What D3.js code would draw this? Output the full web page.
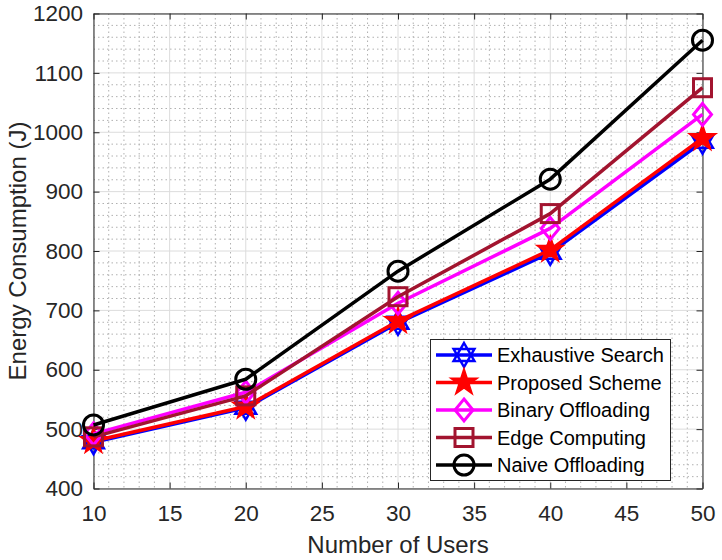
<!DOCTYPE html>
<html><head><meta charset="utf-8">
<script src="https://cdn.jsdelivr.net/npm/d3@7"></script>
<style>body{margin:0;background:#fff}svg{display:block}text{font-family:"Liberation Sans",Arial,sans-serif;fill:#262626}</style>
</head><body><svg id="c" width="722" height="560"></svg>
<script>
const users = [10, 20, 30, 40, 50];
const exhaustive = [478, 536, 679, 797, 984];
const proposed = [480, 538, 682, 802, 990];
const binary = [492, 562, 712, 838, 1030];
const edge = [487, 556, 723, 863, 1075];
const naive = [507, 584, 766, 921, 1155];
const seriesNames = ["Exhaustive Search", "Proposed Scheme", "Binary Offloading", "Edge Computing", "Naive Offloading"];
const xTicks = [10, 15, 20, 25, 30, 35, 40, 45, 50];
const yTicks = [400, 500, 600, 700, 800, 900, 1000, 1100, 1200];

const series = [
  {name: seriesNames[0], vals: exhaustive, color: "#0000ff", marker: "hex"},
  {name: seriesNames[1], vals: proposed, color: "#ff0000", marker: "pent"},
  {name: seriesNames[2], vals: binary, color: "#ff00ff", marker: "diamond"},
  {name: seriesNames[3], vals: edge, color: "#a2142f", marker: "square"},
  {name: seriesNames[4], vals: naive, color: "#000000", marker: "circle"}
];

const L = 93.5, R = 702.5, T = 13.5, B = 488.5;
const svg = d3.select("#c");
const x = d3.scaleLinear().domain([10, 50]).range([L, R]);
const y = d3.scaleLinear().domain([400, 1200]).range([B, T]);

// minor grid
const g = svg.append("g");
d3.range(10, 51, 1).filter(v => v % 5 !== 0).forEach(v => {
  g.append("line").attr("x1", x(v)).attr("x2", x(v)).attr("y1", T).attr("y2", B)
    .attr("stroke", "#b0b0b0").attr("stroke-width", 1).attr("stroke-dasharray", "1.5,3");
});
d3.range(400, 1201, 20).filter(v => v % 100 !== 0).forEach(v => {
  g.append("line").attr("x1", L).attr("x2", R).attr("y1", y(v)).attr("y2", y(v))
    .attr("stroke", "#b0b0b0").attr("stroke-width", 1).attr("stroke-dasharray", "1.5,3");
});
// major grid
xTicks.forEach(v => g.append("line").attr("x1", x(v)).attr("x2", x(v)).attr("y1", T).attr("y2", B).attr("stroke", "#dcdcdc").attr("stroke-width", 1));
yTicks.forEach(v => g.append("line").attr("x1", L).attr("x2", R).attr("y1", y(v)).attr("y2", y(v)).attr("stroke", "#dcdcdc").attr("stroke-width", 1));

// axes
const fmt = d3.format("d");
const axB = d3.axisBottom(x).tickValues(xTicks).tickSizeInner(-6).tickSizeOuter(0).tickPadding(17).tickFormat(fmt);
const axT = d3.axisTop(x).tickValues(xTicks).tickSizeInner(-6).tickSizeOuter(0).tickFormat("");
const axL = d3.axisLeft(y).tickValues(yTicks).tickSizeInner(-6).tickSizeOuter(0).tickPadding(10.5).tickFormat(fmt);
const axR = d3.axisRight(y).tickValues(yTicks).tickSizeInner(-6).tickSizeOuter(0).tickFormat("");
function style(sel) {
  sel.attr("font-size", null).attr("font-family", null);
  sel.select(".domain").attr("stroke", "#262626").attr("stroke-width", 1);
  sel.selectAll(".tick line").attr("stroke", "#262626").attr("stroke-width", 1);
  sel.selectAll("text").style("font-size", "22.5px").style("fill", "#262626").style("font-family", "'Liberation Sans', Arial, sans-serif");
}
svg.append("g").attr("transform", `translate(0,${B})`).call(axB).call(style);
svg.append("g").attr("transform", `translate(0,${T})`).call(axT).call(style);
svg.append("g").attr("transform", `translate(${L},0)`).call(axL).call(style);
svg.append("g").attr("transform", `translate(${R},0)`).call(axR).call(style);

// markers
function hexPath(r) {
  let p = "";
  [[-90, 30, 150], [90, 210, 330]].forEach(tri => {
    p += tri.map((a, i) => (i ? "L" : "M") + (r * Math.cos(a * Math.PI / 180)).toFixed(2) + "," + (r * Math.sin(a * Math.PI / 180)).toFixed(2)).join("") + "Z";
  });
  return p;
}
function pentPath(r) {
  const ri = r * 0.382;
  let pts = [];
  for (let i = 0; i < 10; i++) {
    const a = (-90 + i * 36) * Math.PI / 180;
    const rr = i % 2 ? ri : r;
    pts.push([rr * Math.cos(a), rr * Math.sin(a)]);
  }
  return "M" + pts.map(p => p[0].toFixed(2) + "," + p[1].toFixed(2)).join("L") + "Z";
}
function drawMarker(sel, type, color) {
  if (type === "hex") sel.append("path").attr("d", hexPath(12)).attr("fill", "none").attr("stroke", color).attr("stroke-width", 2.5);
  else if (type === "pent") sel.append("path").attr("d", pentPath(14)).attr("fill", color).attr("stroke", color).attr("stroke-width", 1.5);
  else if (type === "diamond") sel.append("path").attr("d", "M0,-11L9,0L0,11L-9,0Z").attr("fill", "none").attr("stroke", color).attr("stroke-width", 3);
  else if (type === "square") sel.append("rect").attr("x", -9).attr("y", -9).attr("width", 18).attr("height", 18).attr("fill", "none").attr("stroke", color).attr("stroke-width", 3);
  else if (type === "circle") sel.append("circle").attr("r", 10).attr("fill", "none").attr("stroke", color).attr("stroke-width", 3);
}

const line = d3.line().x(d => x(d[0])).y(d => y(d[1]));
series.forEach(s => {
  const data = users.map((u, i) => [u, s.vals[i]]);
  const gs = svg.append("g");
  gs.append("path").attr("d", line(data)).attr("fill", "none").attr("stroke", s.color).attr("stroke-width", 3.5).attr("stroke-linejoin", "round");
  data.forEach(d => {
    const m = gs.append("g").attr("transform", `translate(${x(d[0])},${y(d[1])})`);
    drawMarker(m, s.marker, s.color);
  });
});

// legend
const lg = svg.append("g");
lg.append("rect").attr("x", 430.5).attr("y", 339.5).attr("width", 240).attr("height", 141).attr("fill", "#fff").attr("stroke", "#262626").attr("stroke-width", 1);
series.forEach((s, i) => {
  const cy = 355 + i * 27.5;
  lg.append("line").attr("x1", 436).attr("x2", 492).attr("y1", cy).attr("y2", cy).attr("stroke", s.color).attr("stroke-width", 3.5);
  const m = lg.append("g").attr("transform", `translate(464,${cy})`);
  drawMarker(m, s.marker, s.color);
  lg.append("text").attr("x", 497).attr("y", cy).attr("dy", "0.35em").style("font-size", "20px").style("fill", "#000").text(s.name);
});

// axis titles
svg.append("text").attr("x", (L + R) / 2).attr("y", 553).attr("text-anchor", "middle").style("font-size", "24px").text("Number of Users");
svg.append("text").attr("transform", `translate(26,${(T + B) / 2}) rotate(-90)`).attr("text-anchor", "middle").style("font-size", "24px").text("Energy Consumption (J)");
</script></body></html>
